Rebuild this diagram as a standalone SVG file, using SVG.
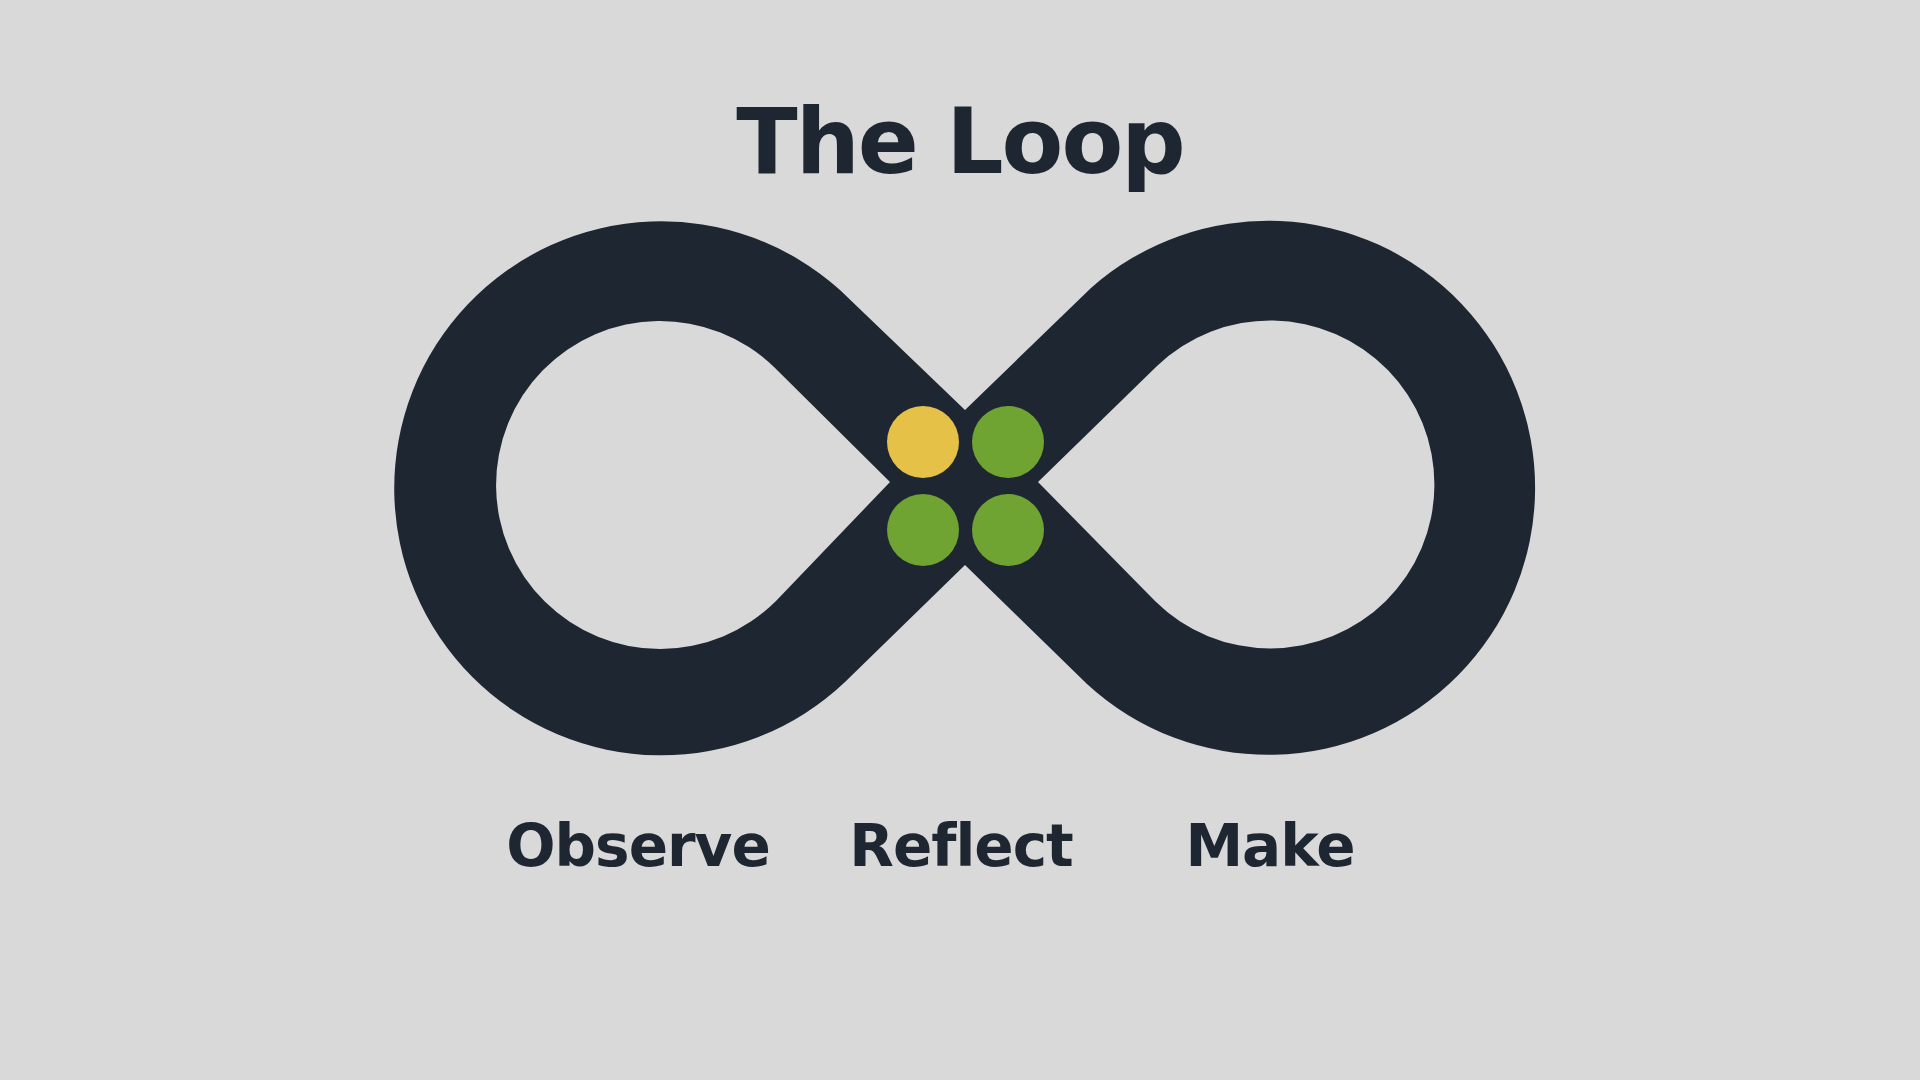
<svg xmlns="http://www.w3.org/2000/svg" width="1920" height="1080" viewBox="0 0 1920 1080">
<style>
.t{font-family:"DejaVu Sans","Liberation Sans",sans-serif;font-weight:bold;fill:#1E2731;text-anchor:middle}
</style>
<rect width="1920" height="1080" fill="#D9D9D9"/>
<g id="title"><text class="t" x="960" y="173" font-size="90" letter-spacing="-2">The Loop</text></g>
<g id="loop"><path fill="#1E2731" fill-rule="evenodd" d="M840,290 A267 267 0 1 0 845,682 L965,565 L1087,684 A267 267 0 1 0 1091,288 L965,410 Z M774,367 A164 164 0 1 0 776,601 L890,482 Z M1157,366 A164 164 0 1 1 1155,601 L1038,482 Z"/></g>
<g id="dots">
<circle cx="923" cy="442" r="36" fill="#E5C147"/>
<circle cx="1008" cy="442" r="36" fill="#6FA332"/>
<circle cx="923" cy="530" r="36" fill="#6FA332"/>
<circle cx="1008" cy="530" r="36" fill="#6FA332"/>
</g>
<g id="observe"><text class="t" x="638" y="866" font-size="58" letter-spacing="-1">Observe</text></g>
<g id="reflect"><text class="t" x="961" y="866" font-size="58" letter-spacing="-1">Reflect</text></g>
<g id="make"><text class="t" x="1270" y="866" font-size="58" letter-spacing="-1">Make</text></g>
</svg>
